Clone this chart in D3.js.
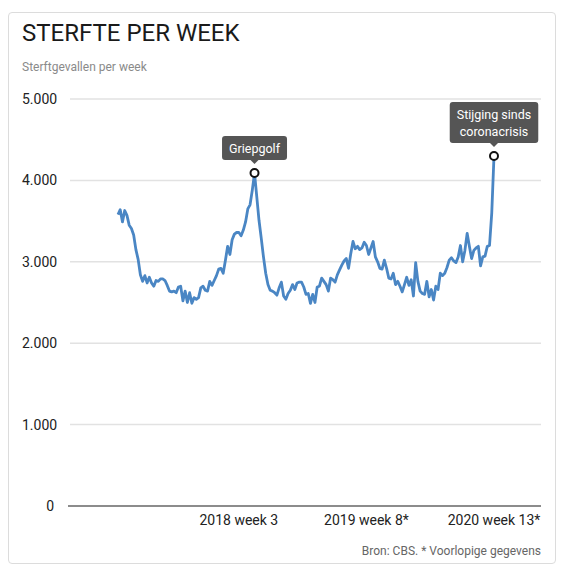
<!DOCTYPE html>
<html>
<head>
<meta charset="utf-8">
<script src="https://cdn.jsdelivr.net/npm/d3@7"></script>
<style>
  body { margin: 0; background: #fff; font-family: Roboto, "Noto Sans", sans-serif; }
  .card { position: absolute; left: 8px; top: 12px; width: 546px; height: 550px;
          border: 1px solid #dcdcdc; border-radius: 4px; }
  svg { position: absolute; left: 0; top: 0; }
</style>
</head>
<body>
<div class="card"></div>
<script>
// Weekly deaths, 2017 week 1 .. 2020 week 13
const deaths = [
  3580, 3640, 3490, 3630, 3570, 3450, 3410, 3330, 3150, 3030,
  2840, 2760, 2830, 2740, 2810, 2740, 2700, 2770, 2760, 2790,
  2790, 2770, 2710, 2640, 2630, 2640, 2620, 2690, 2700, 2520,
  2640, 2500, 2620, 2490, 2560, 2540, 2560, 2680, 2700, 2650,
  2640, 2760, 2710, 2770, 2830, 2910, 2920, 2860, 3020, 3190,
  3090, 3270, 3340, 3360, 3360, 3320, 3390, 3490, 3650, 3700,
  3880, 4090, 3800, 3510, 3290, 3060, 2860, 2720, 2650, 2640,
  2620, 2590, 2680, 2750, 2580, 2540, 2610, 2650, 2720, 2660,
  2740, 2750, 2750, 2690, 2600, 2610, 2490, 2600, 2500, 2690,
  2700, 2800, 2760, 2720, 2640, 2800, 2780, 2750, 2840, 2900,
  2960, 3010, 3040, 2920, 3100, 3250, 3160, 3190, 3150, 3170,
  3240, 3200, 3090, 3170, 3250, 3060, 3000, 2920, 2910, 3020,
  2920, 2800, 2790, 2860, 2720, 2760, 2700, 2630, 2720, 2810,
  2710, 2780, 2580, 2990, 2760, 2640, 2610, 2600, 2760, 2570,
  2660, 2530, 2700, 2660, 2860, 2830, 2860, 2930, 3020, 3050,
  3010, 2990, 3060, 3200, 3000, 3140, 3350, 3190, 3040, 3140,
  3170, 3190, 2950, 3060, 3070, 3190, 3200, 3600, 4300
];

const yTicks = [0, 1000, 2000, 3000, 4000, 5000];
const xTickIdx = [54, 111, 168];
const xTickLabels = ["2018 week 3", "2019 week 8*", "2020 week 13*"];

const noteIdx = [61, 168];
const noteLines = [["Griepgolf"], ["Stijging sinds", "coronacrisis"]];

const W = 561, H = 576;
const nl = d3.formatLocale({ decimal: ",", thousands: ".", grouping: [3], currency: ["€", ""] });
const fmt = nl.format(",");

const x = d3.scaleLinear().domain([0, deaths.length - 1]).range([118, 494]);
const y = d3.scaleLinear().domain([0, 5000]).range([506, 99]);

const svg = d3.select("body").append("svg")
    .attr("width", W)
    .attr("height", H);

// Titles
svg.append("text")
    .attr("x", 22).attr("y", 41)
    .attr("font-size", 24).attr("fill", "#1a1a1a")
    .text("STERFTE PER WEEK");

svg.append("text")
    .attr("x", 22).attr("y", 71)
    .attr("font-size", 12).attr("fill", "#8a8a8a")
    .text("Sterftgevallen per week");

// Gridlines and y labels
const grid = svg.append("g");
grid.selectAll("line")
    .data(yTicks)
    .enter().append("line")
    .attr("x1", d => d === 0 ? 68 : 70)
    .attr("x2", 541)
    .attr("y1", d => y(d)).attr("y2", d => y(d))
    .attr("stroke", d => d === 0 ? "#666" : "#e2e2e2")
    .attr("stroke-width", 1.5);

grid.selectAll("text")
    .data(yTicks)
    .enter().append("text")
    .attr("x", d => d === 0 ? 54 : 22)
    .attr("y", d => y(d))
    .attr("dy", "0.35em")
    .attr("text-anchor", d => d === 0 ? "end" : "start")
    .attr("font-size", 14).attr("fill", "#222")
    .text(d => fmt(d));

// x labels
svg.append("g").selectAll("text")
    .data(xTickIdx)
    .enter().append("text")
    .attr("x", d => x(d))
    .attr("y", 525)
    .attr("text-anchor", "middle")
    .attr("font-size", 14).attr("fill", "#222")
    .text((d, i) => xTickLabels[i]);

// Line
const line = d3.line()
    .x((d, i) => x(i))
    .y(d => y(d));

svg.append("path")
    .datum(deaths)
    .attr("d", line)
    .attr("fill", "none")
    .attr("stroke", "#4a86c4")
    .attr("stroke-width", 2.8)
    .attr("stroke-linejoin", "round");

// Annotations
noteIdx.forEach((idx, k) => {
    const px = x(idx), py = y(deaths[idx]);
    const lines = noteLines[k];
    const g = svg.append("g");
    const lh = 17;
    const boxBottom = py - 13;
    const boxH = lines.length * lh + 7;
    const txt = g.selectAll("text")
        .data(lines)
        .enter().append("text")
        .attr("x", px)
        .attr("y", (d, i) => boxBottom - boxH + 17 + i * lh)
        .attr("text-anchor", "middle")
        .attr("font-size", 12.5).attr("fill", "#fff")
        .text(d => d);
    const w = d3.max(txt.nodes(), n => n.getComputedTextLength()) + 14;
    g.insert("rect", "text")
        .attr("x", px - w / 2).attr("y", boxBottom - boxH)
        .attr("width", w).attr("height", boxH)
        .attr("rx", 3)
        .attr("fill", "#555");
    g.insert("path", "text")
        .attr("d", `M${px - 4},${boxBottom} L${px},${boxBottom + 4} L${px + 4},${boxBottom} Z`)
        .attr("fill", "#555");
    g.append("circle")
        .attr("cx", px).attr("cy", py).attr("r", 4)
        .attr("fill", "#fff").attr("stroke", "#111").attr("stroke-width", 2);
});

// Source
svg.append("text")
    .attr("x", 541).attr("y", 555)
    .attr("text-anchor", "end")
    .attr("font-size", 12).attr("fill", "#666")
    .text("Bron: CBS. * Voorlopige gegevens");
</script>
</body>
</html>
